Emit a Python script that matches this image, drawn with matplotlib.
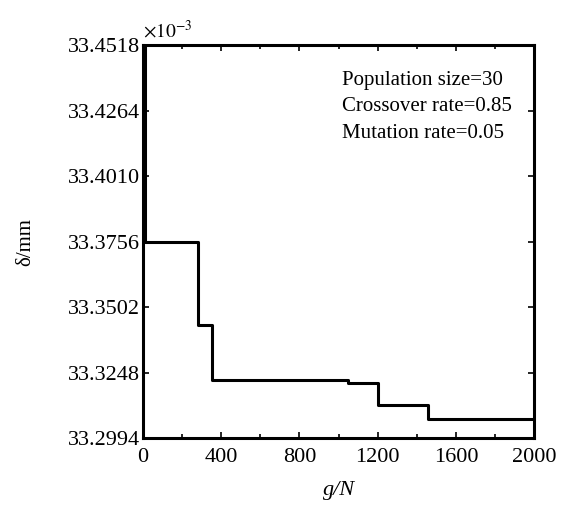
import matplotlib
matplotlib.use("Agg")
import matplotlib.pyplot as plt

# GA convergence curve
generations = [12, 12, 280, 355, 1050, 1200, 1460, 2000]
delta = [33.4518, 33.3756, 33.3432, 33.3219, 33.3207, 33.3122, 33.3070, 33.3068]

y_ticks = [33.2994, 33.3248, 33.3502, 33.3756, 33.4010, 33.4264, 33.4518]
x_ticks = [0, 400, 800, 1200, 1600, 2000]
x_minor = list(range(0, 2001, 200))
params = ["Population size=30", "Crossover rate=0.85", "Mutation rate=0.05"]

plt.rcParams["font.family"] = ["Liberation Serif", "DejaVu Serif"]
plt.rcParams["mathtext.fontset"] = "stix"

fig = plt.figure(figsize=(5.61, 5.13), dpi=100)
ax = fig.add_axes([0.255, 0.146, 0.697, 0.766])

ax.plot(generations, delta, drawstyle="steps-post", color="black", lw=2.2)

ax.set_xlim(0, 2000)
ax.set_ylim(y_ticks[0], y_ticks[-1])
ax.set_xticks(x_ticks)
ax.set_xticks(x_minor, minor=True)
ax.set_yticks(y_ticks)
ax.set_yticklabels([f"{v:.4f}" for v in y_ticks])
ax.tick_params(direction="in", which="both", top=True, right=True,
               labelsize=16, length=4, width=1.2)
ax.tick_params(axis="y", pad=2)
ax.tick_params(axis="x", pad=7)
ax.tick_params(which="minor", length=3)
for s in ax.spines.values():
    s.set_linewidth(2.2)

ax.set_xlabel("g/N", fontsize=16, style="italic", labelpad=10)
ax.set_ylabel("δ/mm", fontsize=15, labelpad=24)
ax.text(0.0, 1.01, r"$\times 10^{-3}$", transform=ax.transAxes,
        fontsize=14, ha="left", va="bottom")

ax.text(0.51, 0.935, "\n".join(params), transform=ax.transAxes,
        fontsize=15, ha="left", va="top", linespacing=1.55)

fig.savefig("out.png", dpi=100)
